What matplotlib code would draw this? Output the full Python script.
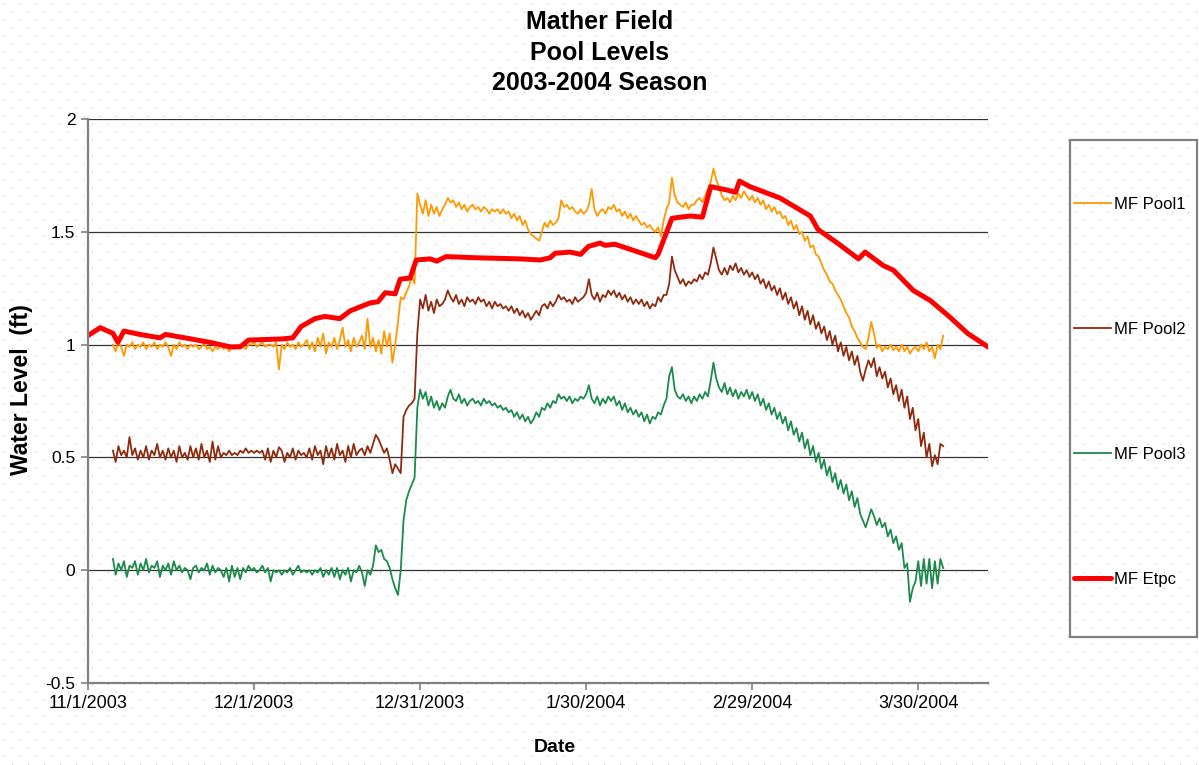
import numpy as np
import matplotlib
matplotlib.use("Agg")
import matplotlib.pyplot as plt
from matplotlib.patches import Rectangle

plt.rcParams['font.family'] = ['Liberation Sans', 'DejaVu Sans']

# ---------------- data ----------------
title_text = "Mather Field\nPool Levels\n2003-2004 Season"
x_label = "Date"
y_label = "Water Level  (ft)"
series_names = ["MF Pool1", "MF Pool2", "MF Pool3", "MF Etpc"]

tick_days = [0, 30, 60, 90, 120, 150]
tick_labels = ["11/1/2003", "12/1/2003", "12/31/2003", "1/30/2004", "2/29/2004", "3/30/2004"]
y_ticks = [-0.5, 0, 0.5, 1, 1.5, 2]
y_tick_labels = ["-0.5", "0", "0.5", "1", "1.5", "2"]

# logger readings: first sample 4.5 days after 11/1/2003, one every half day
pool_start_day = 4.5
pool_step_days = 0.5

pool1 = [
    1.00, 0.97, 1.01, 0.99, 0.95, 1.00, 0.99, 1.01, 0.98, 1.00,
    0.99, 1.01, 0.98, 1.00, 0.99, 1.01, 0.98, 1.00, 0.99, 1.01,
    0.99, 0.95, 1.00, 0.98, 1.01, 0.99, 1.00, 0.98, 1.00, 0.99,
    1.00, 0.98, 0.99, 1.01, 0.98, 0.99, 0.97, 0.99, 0.98, 1.00,
    0.98, 0.99, 0.97, 0.99, 0.98, 1.00, 0.99, 1.00, 0.98, 1.00,
    1.00, 1.01, 0.99, 1.00, 1.01, 0.99, 1.00, 1.00, 0.99, 1.01,
    0.89, 1.00, 0.98, 1.01, 0.99, 1.00, 0.98, 1.01, 0.99, 1.00,
    1.02, 0.98, 1.01, 0.97, 1.03, 0.99, 1.05, 0.96, 1.01, 0.99,
    1.03, 0.98, 1.02, 1.075, 0.99, 1.02, 0.97, 1.03, 0.99, 1.01,
    1.04, 0.98, 1.115, 0.99, 1.03, 0.97, 1.02, 0.96, 1.06, 0.99,
    1.05, 0.92, 1.00, 1.10, 1.21, 1.20, 1.23, 1.26, 1.30, 1.27,
    1.67, 1.62, 1.58, 1.64, 1.57, 1.62, 1.58, 1.61, 1.57, 1.60,
    1.62, 1.65, 1.63, 1.64, 1.61, 1.63, 1.60, 1.62, 1.59, 1.61,
    1.62, 1.60, 1.61, 1.59, 1.61, 1.60, 1.58, 1.60, 1.59, 1.60,
    1.58, 1.60, 1.58, 1.59, 1.56, 1.58, 1.55, 1.57, 1.53, 1.55,
    1.51, 1.49, 1.48, 1.47, 1.46, 1.50, 1.54, 1.52, 1.55, 1.53,
    1.54, 1.56, 1.64, 1.61, 1.62, 1.60, 1.61, 1.59, 1.58, 1.60,
    1.58, 1.59, 1.62, 1.69, 1.60, 1.57, 1.59, 1.60, 1.58, 1.61,
    1.60, 1.62, 1.59, 1.60, 1.57, 1.59, 1.56, 1.58, 1.55, 1.57,
    1.55, 1.53, 1.54, 1.52, 1.53, 1.51, 1.50, 1.52, 1.48, 1.55,
    1.60, 1.63, 1.74, 1.66, 1.63, 1.62, 1.61, 1.63, 1.60, 1.62,
    1.62, 1.64, 1.65, 1.63, 1.66, 1.69, 1.72, 1.78, 1.73, 1.70,
    1.66, 1.64, 1.65, 1.63, 1.66, 1.64, 1.67, 1.65, 1.68, 1.66,
    1.64, 1.66, 1.63, 1.65, 1.62, 1.64, 1.60, 1.62, 1.59, 1.61,
    1.58, 1.59, 1.56, 1.57, 1.53, 1.55, 1.51, 1.53, 1.49, 1.50,
    1.46, 1.48, 1.43, 1.44, 1.40, 1.39, 1.36, 1.33, 1.31, 1.28,
    1.27, 1.24, 1.22, 1.20, 1.17, 1.14, 1.12, 1.08, 1.06, 1.03,
    1.01, 0.99, 0.98, 1.03, 1.10, 1.05, 0.985, 1.00, 0.97, 0.99,
    0.98, 1.00, 0.975, 0.99, 0.97, 1.00, 0.97, 0.99, 0.96, 0.98,
    0.99, 0.97, 1.00, 0.98, 1.01, 0.97, 0.99, 0.94, 1.00, 0.98,
    1.04,
]

pool2 = [
    0.53, 0.48, 0.55, 0.51, 0.53, 0.50, 0.59, 0.51, 0.54, 0.49,
    0.53, 0.50, 0.55, 0.49, 0.53, 0.51, 0.56, 0.50, 0.53, 0.49,
    0.54, 0.50, 0.53, 0.48, 0.55, 0.50, 0.52, 0.49, 0.55, 0.50,
    0.54, 0.49, 0.56, 0.50, 0.53, 0.48, 0.57, 0.49, 0.55, 0.50,
    0.52, 0.51, 0.53, 0.51, 0.52, 0.51, 0.53, 0.52, 0.54, 0.52,
    0.53, 0.52, 0.53, 0.52, 0.53, 0.49, 0.54, 0.48, 0.53, 0.50,
    0.545, 0.53, 0.48, 0.52, 0.50, 0.54, 0.49, 0.53, 0.51, 0.52,
    0.50, 0.54, 0.49, 0.55, 0.51, 0.53, 0.47, 0.55, 0.50, 0.54,
    0.49, 0.56, 0.51, 0.53, 0.48, 0.55, 0.50, 0.56, 0.51, 0.53,
    0.54, 0.51, 0.55, 0.52, 0.56, 0.60, 0.58, 0.55, 0.52, 0.54,
    0.49, 0.43, 0.47, 0.45, 0.43, 0.68, 0.71, 0.73, 0.74, 0.76,
    1.05, 1.20, 1.16, 1.22, 1.15, 1.19, 1.14, 1.20, 1.17, 1.18,
    1.20, 1.24, 1.21, 1.19, 1.22, 1.18, 1.20, 1.17, 1.21, 1.19,
    1.20, 1.18, 1.21, 1.19, 1.20, 1.17, 1.19, 1.16, 1.19, 1.17,
    1.18, 1.16, 1.17, 1.15, 1.17, 1.14, 1.16, 1.13, 1.15, 1.12,
    1.14, 1.11, 1.13, 1.15, 1.13, 1.17, 1.18, 1.16, 1.19, 1.17,
    1.19, 1.22, 1.20, 1.21, 1.19, 1.20, 1.18, 1.21, 1.19, 1.20,
    1.21, 1.23, 1.29, 1.22, 1.20, 1.23, 1.19, 1.22, 1.21, 1.24,
    1.22, 1.24, 1.21, 1.23, 1.20, 1.22, 1.19, 1.21, 1.18, 1.20,
    1.18, 1.20, 1.17, 1.19, 1.16, 1.18, 1.17, 1.21, 1.19, 1.22,
    1.22, 1.27, 1.39, 1.33, 1.30, 1.27, 1.29, 1.26, 1.28, 1.27,
    1.29, 1.28, 1.31, 1.29, 1.32, 1.31, 1.36, 1.43, 1.38, 1.33,
    1.31, 1.34, 1.31, 1.35, 1.33, 1.36, 1.32, 1.34, 1.31, 1.33,
    1.30, 1.32, 1.29, 1.31, 1.27, 1.29, 1.25, 1.28, 1.24, 1.26,
    1.22, 1.25, 1.20, 1.23, 1.18, 1.21, 1.16, 1.19, 1.13, 1.17,
    1.11, 1.15, 1.09, 1.13, 1.07, 1.10, 1.05, 1.08, 1.02, 1.06,
    1.00, 1.04, 0.97, 1.01, 0.95, 0.99, 0.93, 0.97, 0.91, 0.95,
    0.88, 0.84, 0.89, 0.93, 0.90, 0.94, 0.86, 0.90, 0.85, 0.88,
    0.81, 0.85, 0.78, 0.82, 0.75, 0.80, 0.72, 0.77, 0.67, 0.72,
    0.62, 0.67, 0.55, 0.61, 0.50, 0.56, 0.46, 0.51, 0.47, 0.56,
    0.55,
]

pool3 = [
    0.05, -0.02, 0.03, 0.00, 0.04, -0.03, 0.02, 0.01, 0.04, -0.02,
    0.03, 0.00, 0.05, -0.01, 0.02, 0.01, 0.04, -0.03, 0.02, 0.00,
    0.03, -0.02, 0.04, 0.00, 0.02, -0.01, 0.01, 0.00, -0.04, 0.01,
    0.02, -0.01, 0.01, 0.00, 0.03, -0.02, 0.02, -0.01, 0.01, 0.00,
    -0.03, 0.01, -0.05, 0.02, -0.03, 0.01, -0.04, 0.01, -0.01, 0.02,
    0.00, 0.01, -0.01, 0.00, 0.02, -0.01, 0.01, -0.05, 0.00, -0.01,
    0.00, -0.02, 0.00, -0.01, 0.01, -0.02, 0.00, 0.02, -0.01, 0.00,
    -0.01, 0.00, -0.02, 0.00, -0.01, 0.01, -0.03, 0.00, -0.02, 0.01,
    -0.03, 0.01, -0.04, 0.00, -0.02, 0.01, -0.05, 0.00, -0.01, 0.02,
    -0.01, -0.07, 0.00, -0.02, 0.02, 0.11, 0.08, 0.09, 0.05, 0.04,
    0.01, -0.04, -0.08, -0.11, 0.00, 0.22, 0.31, 0.35, 0.38, 0.41,
    0.72, 0.80, 0.76, 0.79, 0.73, 0.77, 0.72, 0.75, 0.71, 0.74,
    0.72, 0.77, 0.80, 0.76, 0.75, 0.78, 0.74, 0.76, 0.73, 0.75,
    0.76, 0.74, 0.75, 0.73, 0.76, 0.74, 0.75, 0.73, 0.74, 0.72,
    0.73, 0.71, 0.72, 0.70, 0.71, 0.68, 0.70, 0.67, 0.69, 0.66,
    0.68, 0.65, 0.67, 0.70, 0.68, 0.72, 0.71, 0.74, 0.72, 0.75,
    0.74, 0.78, 0.76, 0.77, 0.75, 0.77, 0.74, 0.76, 0.75, 0.77,
    0.76, 0.78, 0.82, 0.76, 0.74, 0.77, 0.73, 0.76, 0.74, 0.77,
    0.75, 0.77, 0.73, 0.75, 0.71, 0.74, 0.70, 0.72, 0.69, 0.71,
    0.68, 0.70, 0.66, 0.69, 0.65, 0.68, 0.67, 0.70, 0.69, 0.73,
    0.76, 0.86, 0.90, 0.80, 0.77, 0.76, 0.78, 0.75, 0.77, 0.74,
    0.77, 0.75, 0.78, 0.76, 0.79, 0.77, 0.84, 0.92, 0.85, 0.81,
    0.79, 0.83, 0.78, 0.81, 0.77, 0.80, 0.76, 0.79, 0.77, 0.80,
    0.76, 0.79, 0.75, 0.78, 0.73, 0.76, 0.71, 0.74, 0.69, 0.72,
    0.67, 0.70, 0.65, 0.68, 0.62, 0.66, 0.60, 0.63, 0.57, 0.61,
    0.54, 0.58, 0.51, 0.55, 0.48, 0.52, 0.45, 0.49, 0.42, 0.46,
    0.39, 0.43, 0.36, 0.40, 0.34, 0.38, 0.31, 0.35, 0.28, 0.32,
    0.25, 0.22, 0.19, 0.23, 0.27, 0.24, 0.20, 0.23, 0.19, 0.21,
    0.15, 0.18, 0.12, 0.15, 0.09, 0.12, 0.01, 0.03, -0.14, -0.08,
    -0.05, 0.04, -0.07, 0.05, -0.06, 0.05, -0.08, 0.04, -0.06, 0.05,
    0.01,
]

etpc_days = [0, 2.2, 4.5, 5.4, 6.5, 9.4, 13, 14, 17.5, 22, 25.7, 27.5, 29,
             35, 37, 38.5, 41, 42.8, 45.5, 47.4, 51, 52.4, 53.7, 55.5, 56.4,
             58.2, 59.3, 61.8, 63, 64.7, 70, 78, 81.7, 83.5, 84.4, 87.1, 89,
             90.4, 92.5, 93.4, 95.2, 102.5, 103, 105.5, 108.8, 111, 112.5,
             115.5, 117, 117.7, 119.6, 125, 130.5, 131.9, 135.4, 139.2, 140.4,
             143.7, 145.5, 149.1, 152.2, 155.8, 158.9, 162.6]
etpc_vals = [1.04, 1.075, 1.05, 1.01, 1.06, 1.045, 1.03, 1.045, 1.03, 1.01,
             0.99, 0.99, 1.02, 1.025, 1.03, 1.08, 1.115, 1.125, 1.115, 1.15,
             1.185, 1.19, 1.23, 1.225, 1.29, 1.295, 1.375, 1.38, 1.37, 1.39,
             1.385, 1.38, 1.375, 1.385, 1.405, 1.41, 1.40, 1.435, 1.45, 1.44,
             1.445, 1.385, 1.40, 1.56, 1.57, 1.565, 1.70, 1.685, 1.675, 1.725,
             1.70, 1.65, 1.57, 1.51, 1.45, 1.38, 1.41, 1.35, 1.33, 1.24,
             1.195, 1.12, 1.05, 0.99]

x_max_day = 162.6

# ---------------- figure ----------------
W, H = 1199, 765
fig = plt.figure(figsize=(W / 100, H / 100), dpi=100, facecolor="white")

# dotted (Excel pattern) background
bg = np.ones((H, W, 3))
for r in range(4, H, 8):
    off = 4 if (r // 8) % 2 == 0 else 12
    bg[r, off::16] = 0.74
fig.figimage(bg, xo=0, yo=0, zorder=-5)

ax = fig.add_axes([88 / W, (H - 683) / H, 900 / W, 564 / H])
ax.set_facecolor("none")

pool_days = pool_start_day + pool_step_days * np.arange(len(pool1))
colors = ["#FF9900", "#8E2B0E", "#1B8A4B", "#FF0000"]
l1, = ax.plot(pool_days, pool1, color=colors[0], lw=1.3, label=series_names[0])
l2, = ax.plot(pool_days, pool2, color=colors[1], lw=1.3, label=series_names[1])
l3, = ax.plot(pool_days, pool3, color=colors[2], lw=1.3, label=series_names[2])
l4, = ax.plot(etpc_days, etpc_vals, color=colors[3], lw=3.6, label=series_names[3],
              solid_joinstyle="round", solid_capstyle="round")

ax.set_xlim(0, x_max_day)
ax.set_ylim(-0.5, 2)
ax.set_xticks(tick_days)
ax.set_xticklabels(tick_labels)
ax.set_yticks(y_ticks)
ax.set_yticklabels(y_tick_labels)
ax.yaxis.grid(True, color="#333333", lw=0.9)
ax.set_axisbelow(True)
for s in ["top", "right"]:
    ax.spines[s].set_visible(False)
for s in ["left", "bottom"]:
    ax.spines[s].set_color("#808080")
    ax.spines[s].set_linewidth(1.6)
ax.tick_params(direction="out", length=5, width=1.2, color="#808080",
               labelcolor="black", pad=4)
ax.tick_params(axis="x", labelsize=13)
ax.tick_params(axis="y", labelsize=12.5)

fig.text(0.5, 1 - 10 / H, title_text, ha="center", va="top", fontsize=18,
         fontweight="bold", linespacing=1.35)
fig.text(555 / W, 1 - 748 / H, x_label, ha="center", va="center", fontsize=14,
         fontweight="bold")
fig.text(22 / W, 1 - 390 / H, y_label, ha="center", va="center", fontsize=16.5,
         fontweight="bold", rotation=90)

# legend
fig.patches.append(Rectangle((1070 / W, 1 - 637 / H), 127 / W, 497 / H,
                             transform=fig.transFigure, fill=False,
                             ec="#808080", lw=1.6))
fig.legend(handles=[l1, l2, l3, l4], labels=series_names, loc="upper left",
           bbox_to_anchor=(1074 / W, 1 - 197 / H), frameon=False, borderpad=0,
           labelspacing=6.6, handlelength=2.2, handletextpad=0.2, fontsize=12,
           borderaxespad=0)

fig.savefig("out.png", dpi=100, facecolor="white")
